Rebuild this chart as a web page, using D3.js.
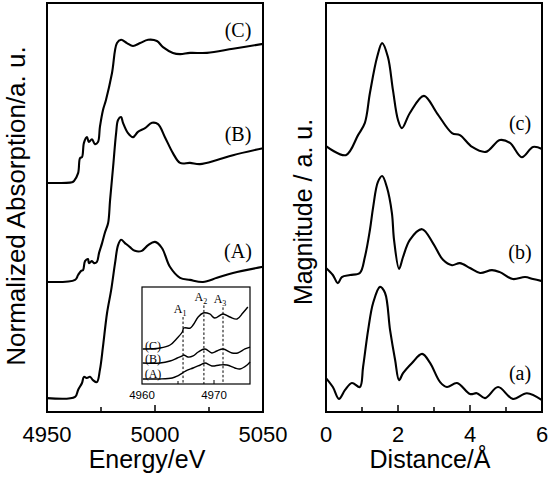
<!DOCTYPE html>
<html>
<head>
<meta charset="utf-8">
<script src="https://cdn.jsdelivr.net/npm/d3@7"></script>
<style>
  body { margin: 0; background: #fff; }
  svg { display: block; }
  .sans { font-family: "Liberation Sans", Arial, sans-serif; }
  .serif { font-family: "Liberation Serif", "Times New Roman", serif; }
</style>
</head>
<body>
<div id="chart"></div>
<script>
// XANES spectra, energy (eV) vs normalized absorption (offset, a.u.)
const xanesA = [[4950,0.34],[4963.0,0.37],[4964.4,0.54],[4966.2,0.71],[4967.1,0.86],[4968.5,0.83],[4969.9,0.86],[4971.3,0.78],[4973.1,0.73],[4974.5,1.03],[4975.9,1.59],[4977.8,2.42],[4979.7,2.98],[4981.5,3.64],[4982.9,4.08],[4984.3,4.21],[4986.1,4.13],[4988.4,4.03],[4990.7,3.94],[4993.9,3.94],[4996.8,4.08],[5000.0,4.16],[5003.2,4.01],[5006.9,3.55],[5011.6,3.28],[5016.2,3.23],[5022.2,3.18],[5028.7,3.28],[5036.1,3.40],[5050,3.55]];
const xanesB = [[4950,3.18],[4963.0,3.23],[4964.4,3.35],[4965.8,3.45],[4966.7,3.47],[4967.6,3.69],[4969.0,3.74],[4969.4,3.64],[4970.8,3.69],[4971.8,3.64],[4973.1,3.67],[4974.1,3.89],[4975.5,4.13],[4976.9,4.40],[4978.3,4.62],[4979.2,5.18],[4980.6,5.99],[4982.0,6.82],[4982.9,7.14],[4984.3,7.21],[4985.2,7.07],[4987.5,6.82],[4989.8,6.72],[4992.1,6.85],[4995.4,6.94],[4998.6,7.07],[5001.4,7.04],[5004.6,6.72],[5008.3,6.33],[5011.6,6.09],[5016.2,6.09],[5020.8,6.06],[5028.7,6.16],[5036.1,6.28],[5050,6.45]];
const xanesC = [[4950,5.60],[4961.6,5.62],[4962.5,5.65],[4964.4,5.84],[4965.3,6.21],[4966.2,6.23],[4967.1,6.58],[4968.5,6.72],[4969.4,6.60],[4970.8,6.67],[4972.2,6.55],[4973.6,6.60],[4974.5,6.97],[4975.9,7.38],[4977.3,7.63],[4980.1,8.29],[4982.4,9.02],[4984.3,9.10],[4987.0,9.02],[4989.8,8.95],[4993.1,9.02],[4996.8,9.10],[5000.9,9.07],[5003.7,8.92],[5008.3,8.78],[5011.6,8.75],[5016.2,8.78],[5024.1,8.78],[5036.1,8.88],[5050,9.00]];

// pre-edge region (inset)
const preA = [[4960.1,0.52],[4962.5,0.52],[4964.2,0.62],[4964.9,0.82],[4965.6,1.13],[4966.3,1.44],[4967.1,1.65],[4968.1,1.96],[4968.75,2.16],[4969.7,1.86],[4970.8,1.96],[4971.8,1.96],[4972.9,1.65],[4973.6,1.55],[4974.6,1.96],[4975,2.27]];
const preB = [[4960.1,2.16],[4962.5,2.16],[4963.9,2.37],[4964.9,2.68],[4965.6,2.89],[4965.8,2.99],[4966.4,2.78],[4967.1,2.89],[4967.8,3.30],[4968.75,3.61],[4969.7,3.20],[4970.4,3.40],[4971.25,3.61],[4972.5,3.20],[4973.3,3.20],[4974.3,3.61],[4975,3.81]];
const preC = [[4960.1,3.61],[4962.5,3.71],[4963.9,4.02],[4964.9,4.74],[4965.6,5.36],[4965.8,5.77],[4966.7,5.77],[4967.1,6.08],[4967.8,6.91],[4968.5,7.32],[4969.4,7.22],[4970.1,6.80],[4971.25,7.22],[4972.2,6.91],[4973.2,6.70],[4974.0,7.32],[4974.7,7.94]];
const preEdgePeaks = [{ name: "1", e: 4965.7, top: 6.9 }, { name: "2", e: 4968.6, top: 8.1 }, { name: "3", e: 4971.25, top: 7.9 }];

// Fourier transform magnitude, distance (Å) vs magnitude (offset, a.u.)
const ftA = [[0,0.83],[0.19,0.61],[0.36,0.32],[0.53,0.54],[0.72,0.71],[0.94,0.61],[1.03,1.10],[1.17,2.00],[1.31,2.67],[1.5,3.06],[1.64,2.91],[1.78,2.00],[1.92,1.27],[2.03,0.78],[2.14,0.95],[2.39,1.20],[2.67,1.42],[2.89,1.20],[3.17,0.73],[3.36,0.61],[3.64,0.71],[4.0,0.44],[4.19,0.46],[4.42,0.34],[4.78,0.61],[5.19,0.32],[5.58,0.46],[6,0.29]];
const ftB = [[0,3.52],[0.19,3.35],[0.33,3.15],[0.44,3.30],[0.67,3.35],[0.94,3.40],[1.08,3.79],[1.22,4.45],[1.31,5.01],[1.44,5.62],[1.56,5.77],[1.69,5.50],[1.83,4.87],[1.89,4.21],[2.03,3.50],[2.14,3.79],[2.33,4.21],[2.67,4.47],[2.97,4.13],[3.25,3.72],[3.5,3.59],[3.72,3.64],[4.0,3.52],[4.28,3.40],[4.61,3.47],[4.83,3.42],[5.19,3.25],[5.53,3.30],[5.75,3.25],[6,3.20]];
const ftC = [[0,6.50],[0.55,6.28],[0.89,6.77],[1.08,7.07],[1.22,7.80],[1.42,8.68],[1.56,9.02],[1.72,8.68],[1.86,7.87],[2.0,7.14],[2.11,6.94],[2.33,7.31],[2.72,7.73],[3.08,7.31],[3.5,6.82],[3.72,6.77],[4.06,6.48],[4.44,6.36],[4.83,6.65],[5.11,6.58],[5.44,6.23],[5.75,6.48],[6,6.43]];

const energyTicks = [4950, 5000, 5050];
const distanceTicks = [0, 2, 4, 6];
const insetTicks = [4960, 4970];

const W = 550, H = 478;
const svg = d3.select("#chart").append("svg").attr("width", W).attr("height", H);
svg.append("rect").attr("width", W).attr("height", H).attr("fill", "#fff");

const xL = d3.scaleLinear().domain([4950, 5050]).range([47, 263]);
const xR = d3.scaleLinear().domain([0, 6]).range([326, 542]);
const y = d3.scaleLinear().domain([0, 10]).range([412, 3]);
const xI = d3.scaleLinear().domain([4960, 4975]).range([142, 250]);
const yI = d3.scaleLinear().domain([0, 10]).range([384, 287]);

function drawLine(xs, ys, data, w) {
  const line = d3.line().x(d => xs(d[0])).y(d => ys(d[1])).curve(d3.curveCatmullRom.alpha(0.5));
  svg.append("path").datum(data)
    .attr("d", line).attr("fill", "none").attr("stroke", "#000")
    .attr("stroke-width", w).attr("stroke-linejoin", "round");
}

function frame(xs, ys, sw) {
  const [x0, x1] = xs.range();
  const [y0, y1] = ys.range();
  svg.append("rect").attr("x", x0).attr("y", y1).attr("width", x1 - x0).attr("height", y0 - y1)
    .attr("fill", "none").attr("stroke", "#000").attr("stroke-width", sw);
}

// bottom axis: inward ticks, major labelled
function bottomAxis(xs, major, minorStep, len, labelSize, labelY) {
  const yb = y.range()[0];
  const [d0, d1] = xs.domain();
  const minor = d3.range(d0, d1 + 1e-9, minorStep).filter(v => !major.includes(v));
  const g = svg.append("g");
  g.selectAll(".mn").data(minor).enter().append("line")
    .attr("x1", d => xs(d)).attr("x2", d => xs(d)).attr("y1", yb).attr("y2", yb - len[0])
    .attr("stroke", "#000").attr("stroke-width", 1.5);
  g.selectAll(".mj").data(major).enter().append("line")
    .attr("x1", d => xs(d)).attr("x2", d => xs(d)).attr("y1", yb).attr("y2", yb - len[1])
    .attr("stroke", "#000").attr("stroke-width", 1.5);
  g.selectAll("text").data(major).enter().append("text")
    .attr("class", "sans").attr("x", d => xs(d)).attr("y", labelY)
    .attr("text-anchor", "middle").attr("font-size", labelSize).text(d => d);
}

// left panel: XANES
drawLine(xL, y, xanesA, 2.1);
drawLine(xL, y, xanesB, 2.1);
drawLine(xL, y, xanesC, 2.1);
frame(xL, y, 2);
bottomAxis(xL, energyTicks, 25, [5, 7], 22, 442);

// right panel: FT
drawLine(xR, y, ftA, 2.1);
drawLine(xR, y, ftB, 2.1);
drawLine(xR, y, ftC, 2.1);
frame(xR, y, 2);
bottomAxis(xR, distanceTicks, 1, [5, 7], 22, 442);

// series labels
const leftLabels = [["(C)", 37], ["(B)", 141], ["(A)", 258]];
svg.selectAll(".ll").data(leftLabels).enter().append("text")
  .attr("class", "serif").attr("x", 238).attr("y", d => d[1])
  .attr("text-anchor", "middle").attr("font-size", 20).text(d => d[0]);
const rightLabels = [["(c)", 130], ["(b)", 259], ["(a)", 380]];
svg.selectAll(".rl").data(rightLabels).enter().append("text")
  .attr("class", "serif").attr("x", 520).attr("y", d => d[1])
  .attr("text-anchor", "middle").attr("font-size", 20).text(d => d[0]);

// inset
svg.append("rect").attr("x", 142).attr("y", 287).attr("width", 108).attr("height", 97).attr("fill", "#fff");
drawLine(xI, yI, preA, 1.4);
drawLine(xI, yI, preB, 1.4);
drawLine(xI, yI, preC, 1.4);

svg.selectAll(".pk").data(preEdgePeaks).enter().append("line")
  .attr("x1", d => xI(d.e)).attr("x2", d => xI(d.e))
  .attr("y1", d => yI(d.top)).attr("y2", yI(0))
  .attr("stroke", "#000").attr("stroke-width", 1).attr("stroke-dasharray", "2.5,2");
const pkText = svg.selectAll(".pkt").data(preEdgePeaks).enter().append("text")
  .attr("class", "serif").attr("x", d => xI(d.e) - 3).attr("y", d => yI(d.top) - 4)
  .attr("text-anchor", "middle").attr("font-size", 12);
pkText.append("tspan").text("A");
pkText.append("tspan").attr("font-size", 8).attr("dy", 3).text(d => d.name);

const insetLabels = [["(C)", 3.5], ["(B)", 2.2], ["(A)", 0.6]];
svg.selectAll(".il").data(insetLabels).enter().append("text")
  .attr("class", "serif").attr("x", 153).attr("y", d => yI(d[1]))
  .attr("text-anchor", "middle").attr("font-size", 12).text(d => d[0]);

svg.append("rect").attr("x", 142).attr("y", 287).attr("width", 108).attr("height", 97)
  .attr("fill", "none").attr("stroke", "#000").attr("stroke-width", 1.2);
svg.selectAll(".it").data([4965, 4970]).enter().append("line")
  .attr("x1", d => xI(d)).attr("x2", d => xI(d)).attr("y1", 384).attr("y2", d => d === 4970 ? 380 : 381)
  .attr("stroke", "#000").attr("stroke-width", 1);
svg.selectAll(".itl").data(insetTicks).enter().append("text")
  .attr("class", "sans").attr("x", d => xI(d)).attr("y", 399)
  .attr("text-anchor", "middle").attr("font-size", 11.5).text(d => d);

// axis titles
svg.append("text").attr("class", "sans").attr("font-size", 26)
  .attr("transform", "translate(25,206) rotate(-90)").attr("text-anchor", "middle")
  .text("Normalized Absorption/a. u.");
svg.append("text").attr("class", "sans").attr("font-size", 25)
  .attr("transform", "translate(312,212) rotate(-90)").attr("text-anchor", "middle")
  .text("Magnitude / a. u.");
svg.append("text").attr("class", "sans").attr("font-size", 25)
  .attr("x", 147).attr("y", 468).attr("text-anchor", "middle").text("Energy/eV");
svg.append("text").attr("class", "sans").attr("font-size", 25)
  .attr("x", 430).attr("y", 468).attr("text-anchor", "middle").text("Distance/Å");
</script>
</body>
</html>
